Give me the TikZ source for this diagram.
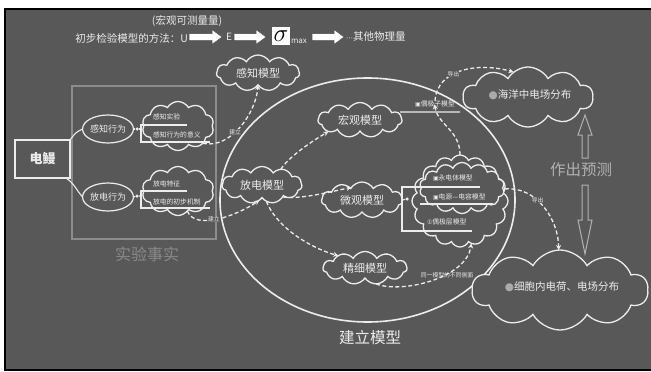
\documentclass[tikz,border=0pt]{standalone}
\usepackage{fontspec}
\setmainfont{Noto Sans CJK SC}
\newfontfamily\sym{DejaVu Sans}
\usetikzlibrary{shapes.symbols,shapes.geometric,arrows.meta,calc}
\definecolor{bg}{RGB}{88,88,88}
\definecolor{ln}{RGB}{236,236,236}
\definecolor{frm}{RGB}{140,140,140}
\definecolor{dimtxt}{RGB}{138,138,138}
\definecolor{predtxt}{RGB}{178,178,178}
\definecolor{icon}{RGB}{170,170,170}
\newcommand{\fs}[1]{\fontsize{#1}{#1}\selectfont}
\begin{document}
\begin{tikzpicture}[x=1pt,y=-1pt,
  every node/.style={text=ln, inner sep=0pt, outer sep=0pt},
  cloudn/.style={cloud, cloud puffs=11, cloud puff arc=120, cloud ignores aspect, draw=ln, fill=bg, line width=1.3pt},
  oval/.style={ellipse, draw=ln, line width=1.2pt, minimum width=50pt, minimum height=28pt, font=\fs{9}},
  dsh/.style={draw=ln, line width=1.3pt, dash pattern=on 4pt off 2.5pt, -{Stealth[length=5pt,width=5pt]}},
  sol/.style={draw=ln, line width=1.1pt},
  tinyt/.style={font=\fs{5.8}},
  smallt/.style={font=\fs{6.8}},
  modelt/.style={font=\fs{11}},
  blockarrow/.style={fill=white, draw=black!70, line width=0.5pt},
  harrow/.style={draw=predtxt, line width=1pt},
  dot/.style={circle, fill=ln, minimum size=3.5pt},
]
\useasboundingbox (0,0) rectangle (651,372);
\fill[white] (0,0) rectangle (651,372);
\fill[bg] (5,9) rectangle (651,370);
\draw[black, line width=2pt] (651,9) -- (5,9) -- (5,370) -- (651,370);

% ---- top line ----
\node[font=\fs{10.5}] (meas) at (187,21) {(宏观可测量量)};
\node[font=\fs{10.5}, anchor=east] (method) at (188,38) {初步检验模型的方法：U};
\draw[blockarrow] (189,33.5) -- (212,33.5) -- (212,29.5) -- (222,37) -- (212,44.5) -- (212,40.5) -- (189,40.5) -- cycle;
\node[font=\fs{10}] (E) at (229,37) {E};
\draw[blockarrow] (234,33.5) -- (256,33.5) -- (256,29.5) -- (266,37) -- (256,44.5) -- (256,40.5) -- (234,40.5) -- cycle;
\node[fill=white, minimum width=18pt, minimum height=18pt, text=black, font=\fs{23}] (sig) at (281,36) {$\sigma$};
\node[font=\fs{8}, anchor=west] (max) at (291,41) {max};
\draw[blockarrow] (312,33.5) -- (334,33.5) -- (334,29.5) -- (344,37) -- (334,44.5) -- (334,40.5) -- (312,40.5) -- cycle;
\node[font=\fs{10.5}, anchor=west] (other) at (346,37) {{\sym\fs{7}⋯}其他物理量};

% ---- experimental facts ----
\node[draw=frm, line width=1.2pt, minimum width=144pt, minimum height=153pt] (facts) at (144,162.5) {};
\node[text=dimtxt, font=\fs{16}] (factslbl) at (147,254) {实验事实};
\node[draw=ln, line width=1.6pt, minimum width=55pt, minimum height=38pt, font=\fs{13}\bfseries] (eel) at (42.5,159) {电鳗};
\node[oval] (gzxw) at (108,129) {感知行为};
\node[oval] (fdxw) at (108,197) {放电行为};
\draw[sol] (eel.north east) .. controls +(6,-8) and +(-6,3) .. (gzxw.west);
\draw[sol] ($(eel.south east)+(-4,0)$) .. controls +(9,6) and +(-5,-5) .. (fdxw.west);

\node[cloudn, cloud puffs=10, minimum width=72pt, minimum height=49pt] (c1) at (178,126) {};
\node[cloudn, cloud puffs=10, minimum width=72pt, minimum height=49pt] (c2) at (178,191) {};
\node[dot] (d1) at (137,129) {};
\node[dot] (d2) at (137,196) {};
\draw[sol] (gzxw.east) -- (d1) -- (140,129);
\draw[sol] (fdxw.east) -- (d2) -- (140,196);
\draw[sol] (187,125) -- (141,125) -- (141,142) -- (210,142);
\draw[sol] (187,191) -- (141,191) -- (141,208) -- (210,208);
\node[smallt, anchor=west] (t1) at (153,117) {感知实验};
\node[smallt, anchor=west] (t2) at (153,135) {感知行为的意义};
\node[smallt, anchor=west] (t3) at (153,184) {放电特征};
\node[smallt, anchor=west] (t4) at (153,202) {放电的初步机制};

% ---- model ellipse ----
\node[ellipse, draw=ln, line width=1.6pt, minimum width=295pt, minimum height=244pt] (model) at (367.5,200) {};
\node[font=\fs{15.5}] (mlbl) at (370,338) {建立模型};

\node[cloudn, minimum width=83pt, minimum height=36pt, modelt] (gzmx) at (258,73) {感知模型};
\node[cloudn, minimum width=84pt, minimum height=35pt, modelt] (hgmx) at (360,120) {宏观模型};
\node[cloudn, minimum width=80pt, minimum height=37pt, modelt] (fdmx) at (262,185) {放电模型};
\node[cloudn, minimum width=81pt, minimum height=36pt, modelt] (wgmx) at (362,200) {微观模型};
\node[cloudn, minimum width=84pt, minimum height=33pt, modelt] (jxmx) at (365,268) {精细模型};

% micro sub-models
\node[cloudn, cloud puffs=16, cloud puff arc=130, minimum width=96pt, minimum height=92pt] (mc) at (460,201) {};
\node[cloudn, cloud puffs=14, cloud puff arc=130, minimum width=85pt, minimum height=51pt] (mci) at (462,188) {};
\node[dot] (d3) at (407,199) {};
\draw[sol] (wgmx.east) -- (d3);
\draw[sol] (480,187) -- (402,187) -- (402,231) -- (472,231);
\draw[sol] (420,204) -- (493,204);
\node[smallt, anchor=west] (y1) at (433,178) {{\sym\fs{6}▣}永电体模型};
\node[smallt, anchor=west] (y2) at (433,197) {{\sym\fs{6}▣}电源—电容模型};
\node[smallt, anchor=west] (y3) at (427,222) {{\sym\fs{6}①}偶极层模型};

% dipole model
\node[smallt] (dpz) at (435,104) {{\sym\fs{6}▣}偶极子模型};
\coordinate (dpzR) at (460,112);
\draw[sol] ($(hgmx.east)+(-2,-8)$) -- (dpzR);

% predictions
\node[cloudn, cloud puffs=10, minimum width=130pt, minimum height=60pt] (hy) at (528,97) {};
\node[font=\fs{10.5}] (hyt) at (530,95) {{\sym\color{icon}●}海洋中电场分布};
\node[cloudn, cloud puffs=10, minimum width=176pt, minimum height=80pt] (xb) at (560,290) {};
\node[font=\fs{10.5}] (xbt) at (562,287) {{\sym\color{icon}●}细胞内电荷、电场分布};
\node[text=predtxt, font=\fs{15.5}] (pred) at (581,170) {作出预测};
\draw[harrow] (582,158) -- (582,135) -- (578,135) -- (585,115) -- (592,135) -- (588,135) -- (588,158) -- cycle;
\draw[harrow] (582,185) -- (582,220) -- (578,220) -- (585,254) -- (592,220) -- (588,220) -- (588,185) -- cycle;

% ---- dashed connectors ----
\draw[dsh] (c1.-35) .. controls +(28,6) and +(-2,28) .. (gzmx.south) node[pos=0.42, tinyt, fill=bg] {建立};
\draw[dsh] (c2.-65) .. controls +(8,20) and +(-22,15) .. (fdmx.-100) node[pos=0.45, tinyt, fill=bg] {建立};
\draw[dsh] (fdmx.40) .. controls +(10,-15) and +(-10,6) .. (hgmx.200);
\draw[dsh] (fdmx.-30) .. controls +(18,3) and +(-15,3) .. (wgmx.130);
\draw[dsh] (fdmx.-75) .. controls +(12,30) and +(-20,-5) .. (jxmx.155);
\draw[dsh] (jxmx.-55) .. controls +(25,10) and +(-5,35) .. (mc.-75);
\node[tinyt] (same) at (447,275) {同一模型的不同侧面};
\draw[dsh, shorten >=-3pt] (mc.90) .. controls +(0,-25) and +(3,18) .. (dpz.south);
\draw[dsh] (dpz.north) .. controls +(2,-32) and +(-35,-10) .. (hy.120) node[pos=0.4, tinyt, fill=bg] {导出};
\draw[dsh] (mc.15) .. controls +(32,-3) and +(0,-30) .. (xb.92) node[pos=0.4, tinyt, fill=bg] {导出};
\end{tikzpicture}
\end{document}
